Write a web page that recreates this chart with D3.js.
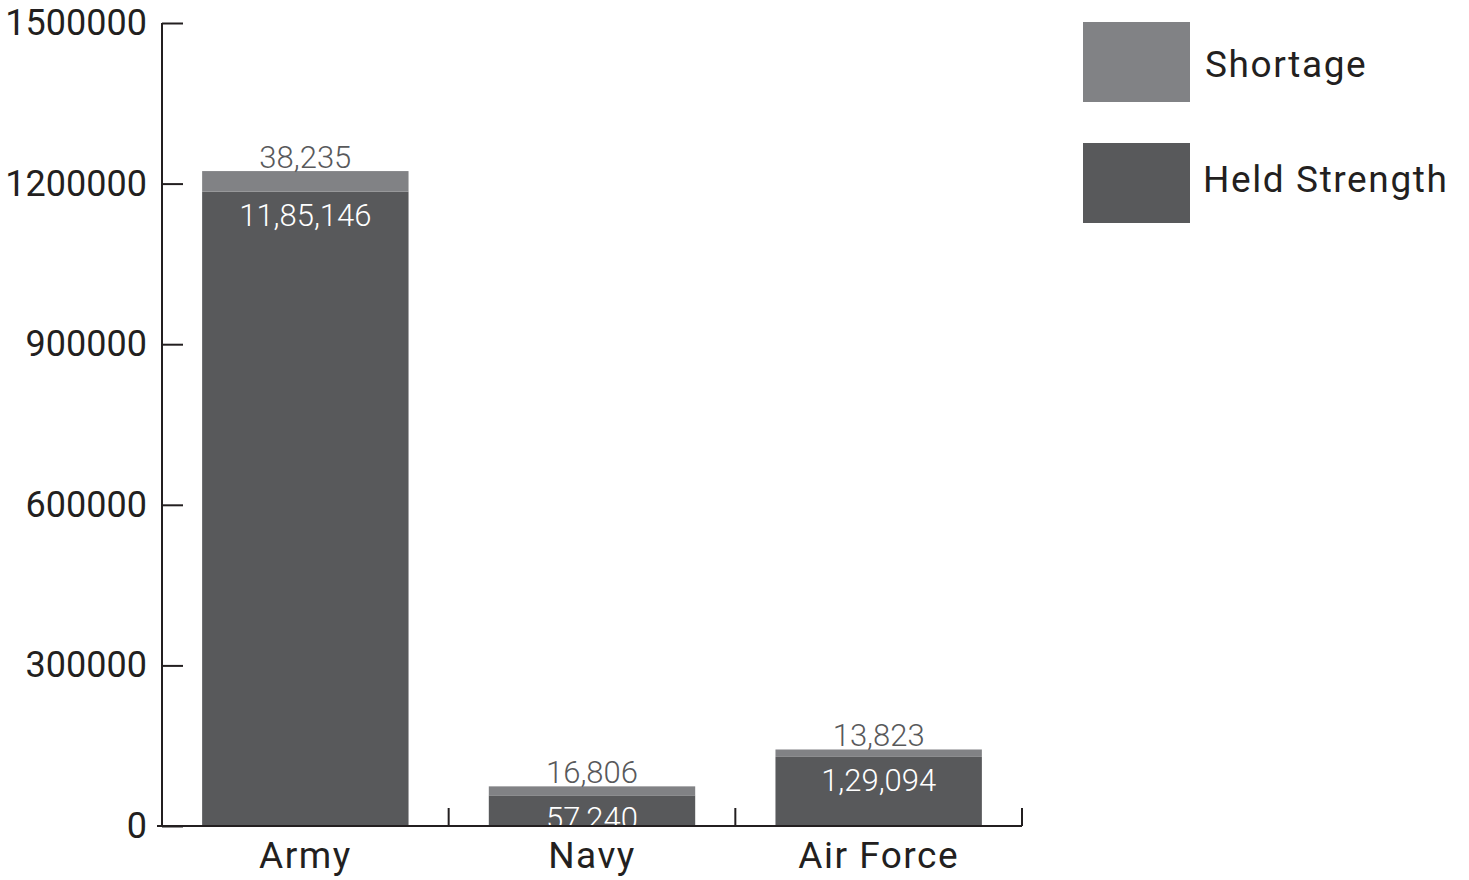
<!DOCTYPE html>
<html><head><meta charset="utf-8">
<script src="https://cdn.jsdelivr.net/npm/d3@7"></script>
<style>body{margin:0;background:#fff}svg{display:block}</style>
</head><body>
<svg id="c" width="1469" height="880"></svg>
<script>
const categories = ["Army", "Navy", "Air Force"];
const heldStrength = [1185146, 57240, 129094];
const shortage = [38235, 16806, 13823];
const heldLabels = ["11,85,146", "57,240", "1,29,094"];
const shortageLabels = ["38,235", "16,806", "13,823"];
const yTicks = [0, 300000, 600000, 900000, 1200000, 1500000];
const seriesNames = ["Shortage", "Held Strength"];

const colShort = "#818285", colHeld = "#58595b", ink = "#231f20";
const font = "Roboto, 'Open Sans', sans-serif";
const svg = d3.select("#c");
const x0 = 162, x1 = 1022, yb = 826, yt = 23;

const x = d3.scaleBand().domain(categories).range([x0, x1]).paddingInner(0.28).paddingOuter(0.14);
const y = d3.scaleLinear().domain([0, 1500000]).range([yb, yt]);

const data = categories.map((c, i) => ({c, held: heldStrength[i], short: shortage[i], hl: heldLabels[i], sl: shortageLabels[i]}));

svg.append("defs").append("clipPath").attr("id", "plot").append("rect")
  .attr("x", x0).attr("y", 0).attr("width", x1 - x0).attr("height", yb);

const g = svg.append("g").attr("clip-path", "url(#plot)");
g.selectAll("rect.held").data(data).join("rect")
  .attr("x", d => x(d.c)).attr("width", x.bandwidth())
  .attr("y", d => y(d.held)).attr("height", d => yb - y(d.held)).attr("fill", colHeld);
g.selectAll("rect.short").data(data).join("rect")
  .attr("x", d => x(d.c)).attr("width", x.bandwidth())
  .attr("y", d => y(d.held + d.short)).attr("height", d => y(d.held) - y(d.held + d.short)).attr("fill", colShort);
g.selectAll("text.hl").data(data).join("text")
  .attr("x", d => x(d.c) + x.bandwidth() / 2).attr("y", d => y(d.held) + 34)
  .attr("text-anchor", "middle").attr("fill", "#fff").attr("font-family", font).attr("font-weight", 300)
  .attr("font-size", 31).text(d => d.hl);
svg.selectAll("text.sl").data(data).join("text")
  .attr("x", d => x(d.c) + x.bandwidth() / 2).attr("y", d => y(d.held + d.short) - 3)
  .attr("text-anchor", "middle").attr("fill", "#58595b").attr("font-family", font).attr("font-weight", 300)
  .attr("font-size", 31).text(d => d.sl);

// y axis
const ya = svg.append("g").attr("transform", `translate(${x0},0)`)
  .call(d3.axisLeft(y).tickValues(yTicks).tickFormat(d3.format("d")).tickSize(-21).tickPadding(15));
ya.select(".domain").attr("stroke", ink).attr("stroke-width", 2).attr("d", `M0,${yt}V${yb}`);
ya.selectAll(".tick line").attr("stroke", ink).attr("stroke-width", 2);
ya.selectAll(".tick text").attr("font-family", font).attr("font-size", 36).attr("fill", ink);

// x axis
const step = x.step();
const xa = svg.append("g").attr("transform", `translate(0,${yb})`)
  .call(d3.axisBottom(x).tickSize(0).tickPadding(16));
xa.select(".domain").attr("stroke", ink).attr("stroke-width", 2).attr("d", `M${x0 - 5},0H${x1}`);
xa.selectAll(".tick text").attr("font-family", font).attr("font-size", 37).attr("letter-spacing", 1.5)
  .attr("fill", ink).attr("dy", "0.71em");
xa.selectAll("line.sep").data(categories).join("line").attr("class", "sep")
  .attr("x1", (d, i) => x0 + step * (i + 1)).attr("x2", (d, i) => x0 + step * (i + 1))
  .attr("y1", 0).attr("y2", -18).attr("stroke", ink).attr("stroke-width", 2);

// legend
const legCols = [colShort, colHeld];
const lg = svg.selectAll("g.leg").data(seriesNames).join("g")
  .attr("transform", (d, i) => `translate(1083,${22 + i * 121})`);
lg.append("rect").attr("width", 107).attr("height", 80).attr("fill", (d, i) => legCols[i]);
lg.append("text").attr("x", (d, i) => i === 0 ? 122 : 120).attr("y", (d, i) => i === 0 ? 55 : 49)
  .attr("font-family", font).attr("font-size", 37).attr("letter-spacing", 1.6).attr("fill", ink).text(d => d);
</script>
</body></html>
